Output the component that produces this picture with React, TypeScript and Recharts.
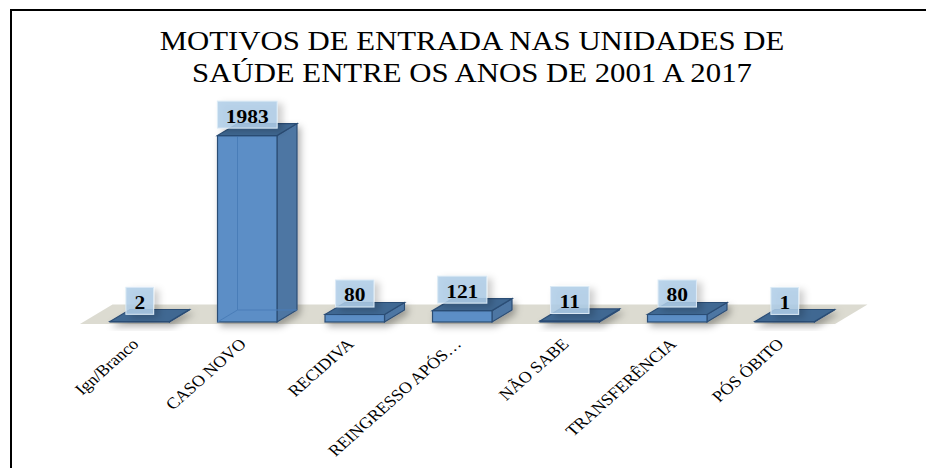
import { BarChart, Bar, XAxis, YAxis, LabelList, ReferenceArea } from 'recharts';

const CATEGORIES = ['Ign/Branco', 'CASO NOVO', 'RECIDIVA', 'REINGRESSO APÓS…', 'NÃO SABE', 'TRANSFERÊNCIA', 'PÓS ÓBITO'];
const VALUES = [2, 1983, 80, 121, 11, 80, 1];
const TITLE_LINES = ['MOTIVOS DE ENTRADA NAS UNIDADES DE', 'SAÚDE ENTRE OS ANOS DE 2001 A 2017'];
const Y_DOMAIN = [0, 2000];

const data = CATEGORIES.map((name, i) => ({ name, value: VALUES[i] }));

const SERIF = '"Liberation Serif", "Times New Roman", serif';
const STRETCH = 1.13;
const DX = 20;
const DY = 12;

const Bar3D = (props: any) => {
  const { x, y, width, height } = props;
  const h = Math.max(height, 0.5);
  const top = y + height - h;
  const bottom = top + h;
  const right = x + width;
  return (
    <g filter="url(#barShadow)">
      {/* side */}
      <polygon
        points={`${right},${top} ${right + DX},${top - DY} ${right + DX},${bottom - DY} ${right},${bottom}`}
        fill="#4e76a3"
        stroke="#2c4d75"
        strokeWidth={1.2}
      />
      {/* front */}
      <rect x={x} y={top} width={width} height={h} fill="#5b8ec6" stroke="#2c4d75" strokeWidth={1.2} />
      {/* inner back edges seen through the front */}
      {h > 20 && (
        <g stroke="#4a7db8" strokeWidth={1}>
          <line x1={x + DX} y1={top - DY} x2={x + DX} y2={bottom - DY} />
          <line x1={x + DX} y1={bottom - DY} x2={right + DX} y2={bottom - DY} />
          <line x1={x} y1={bottom} x2={x + DX} y2={bottom - DY} />
        </g>
      )}
      {/* top */}
      <polygon
        points={`${x},${top} ${x + DX},${top - DY} ${right + DX},${top - DY} ${right},${top}`}
        fill="#3f6892"
        stroke="#2c4d75"
        strokeWidth={1.2}
      />
    </g>
  );
};

const Floor = (props: any) => {
  const { x, y, width, height } = props;
  const base = y + height;
  const b = base + 2;
  const t = base - 17.5;
  const shift = ((b - t) * DX) / DY;
  const l = x - 6;
  const r = x + width - 3.5;
  return <polygon points={`${l},${b} ${l + shift},${t} ${r + shift},${t} ${r},${b}`} fill="#dcdbd1" />;
};

const ValueLabel = (props: any) => {
  const { x, y, width, value } = props;
  const cx = x + width / 2;
  const txt = String(value);
  const boxW = txt.length * 10.7 + 17;
  const boxBottom = y - 7.5;
  const boxH = 27;
  return (
    <g>
      <rect
        x={cx - boxW / 2}
        y={boxBottom - boxH}
        width={boxW}
        height={boxH}
        fill="#aecde8"
        fillOpacity={0.85}
        stroke="#dcebf6"
        strokeWidth={1}
        filter="url(#boxShadow)"
      />
      <text
        transform={`translate(${cx},${boxBottom - 5.5}) scale(${STRETCH},1)`}
        textAnchor="middle"
        fontFamily={SERIF}
        fontWeight="bold"
        fontSize={19}
        fill="#000"
      >
        {txt}
      </text>
    </g>
  );
};

const CategoryTick = (props: any) => {
  const { x, y, payload } = props;
  return (
    <text
      transform={`translate(${x},${y + 15}) scale(${STRETCH},1) rotate(-45)`}
      textAnchor="end"
      fontFamily={SERIF}
      fontSize={16}
      fill="#000"
    >
      {payload.value}
    </text>
  );
};

export default function App() {
  return (
    <div style={{ position: 'absolute', left: 0, top: 0, width: 926, height: 468, background: '#fff' }}>
      <svg width={926} height={468} style={{ position: 'absolute', left: 0, top: 0 }}>
        <defs>
          <filter id="barShadow" x="-30%" y="-30%" width="160%" height="200%">
            <feDropShadow dx={3} dy={4} stdDeviation={3.5} floodColor="#000" floodOpacity={0.3} />
          </filter>
          <filter id="boxShadow" x="-40%" y="-40%" width="200%" height="200%">
            <feDropShadow dx={5} dy={3} stdDeviation={3.5} floodColor="#000" floodOpacity={0.22} />
          </filter>
        </defs>
        <line x1={10} y1={10} x2={926} y2={10} stroke="#000" strokeWidth={2} />
        <line x1={11} y1={9} x2={11} y2={468} stroke="#000" strokeWidth={2} />
        {TITLE_LINES.map((line, i) => (
          <text
            key={line}
            transform={`translate(472,${50 + i * 32}) scale(${STRETCH + 0.01},1)`}
            textAnchor="middle"
            fontFamily={SERIF}
            fontSize={27}
            fill="#000"
          >
            {line}
          </text>
        ))}
      </svg>
      <BarChart
        width={926}
        height={468}
        data={data}
        margin={{ top: 134, right: 87.5, bottom: 0, left: 86 }}
        style={{ position: 'absolute', left: 0, top: 0 }}
      >
        <XAxis
          dataKey="name"
          height={146}
          axisLine={false}
          tickLine={false}
          interval={0}
          tick={<CategoryTick />}
        />
        <YAxis hide domain={Y_DOMAIN} />
        <ReferenceArea
          x1={CATEGORIES[0]}
          x2={CATEGORIES[CATEGORIES.length - 1]}
          y1={0}
          y2={100}
          ifOverflow="visible"
          shape={<Floor />}
        />
        <Bar dataKey="value" barSize={59.5} shape={<Bar3D />} isAnimationActive={false}>
          <LabelList dataKey="value" content={<ValueLabel />} />
        </Bar>
      </BarChart>
    </div>
  );
}
